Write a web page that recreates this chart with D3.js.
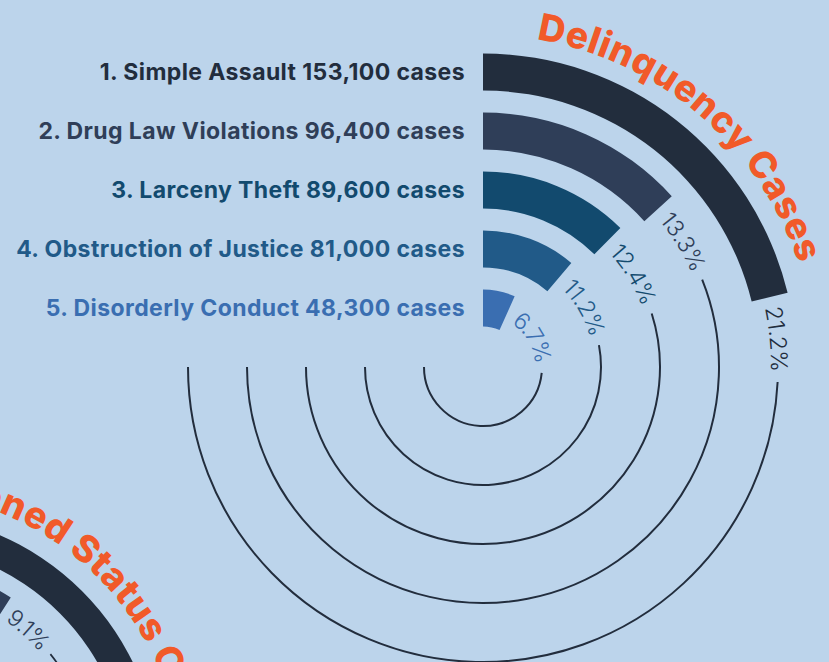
<!DOCTYPE html>
<html>
<head>
<meta charset="utf-8">
<script src="https://cdn.jsdelivr.net/npm/d3@7"></script>
<style>
  body { margin: 0; background: #bcd4eb; }
  text { font-family: Inter, "Noto Sans", sans-serif; }
</style>
</head>
<body>
<script>
// top five delinquency offenses
var categories = ["Simple Assault", "Drug Law Violations", "Larceny Theft", "Obstruction of Justice", "Disorderly Conduct"];
var cases = [153100, 96400, 89600, 81000, 48300];
var shares = [21.2, 13.3, 12.4, 11.2, 6.7];

// second chart, only partly on the page (ring 1 runs off the edge)
var statusShares = [25.0, 9.1];

var titles = ["Delinquency Cases", "Petitioned Status Offense Cases"];
var ringColors = ["#222d3d", "#2f3e58", "#124a6e", "#215a88", "#3a6eb1"];
var orange = "#f15a29";

var W = 829, H = 662;
var band = 37;

var angle = d3.scaleLinear().domain([0, 100]).range([0, 2 * Math.PI]);
var radius = d3.scalePoint().domain(d3.range(1, 6)).range([295, 59]);
var fmt = d3.format(",");

var svg = d3.select("body").append("svg")
    .attr("width", W)
    .attr("height", H);

svg.append("rect").attr("width", W).attr("height", H).attr("fill", "#bcd4eb");

function drawChart(g, id, vals, labels, o) {
    var rows = vals.map(function(v, i) {
        return { rank: i + 1, v: v, color: ringColors[i], label: labels ? labels[i] : null };
    });

    var arc = d3.arc()
        .innerRadius(function(d) { return radius(d.rank) - band / 2; })
        .outerRadius(function(d) { return radius(d.rank) + band / 2; })
        .startAngle(0)
        .endAngle(function(d) { return angle(d.v); });

    g.selectAll("path.bar")
        .data(rows)
        .join("path")
        .attr("class", "bar")
        .attr("fill", function(d) { return d.color; })
        .attr("d", arc);

    var gap = 10;
    rows.forEach(function(d, i) {
        var r = radius(d.rank);
        var a0 = angle(d.v);
        var p = d3.path();
        p.arc(0, 0, r, a0 - Math.PI / 2, Math.PI, false);
        var pid = id + "-ring" + i;
        g.append("path").attr("id", pid).attr("d", p.toString()).attr("fill", "none");

        var tp = g.append("text")
            .attr("dy", "0.3em")
            .attr("fill", d.color)
            .style("font-size", o.pctSize + "px")
            .style("font-weight", 300)
            .append("textPath")
            .attr("href", "#" + pid)
            .attr("startOffset", gap)
            .text(d.v.toFixed(1) + "%");

        var len = tp.node().getComputedTextLength();
        var a1 = a0 + (gap + len + gap) / r;
        var line = d3.path();
        line.arc(0, 0, r, a1 - Math.PI / 2, Math.PI, false);
        g.append("path")
            .attr("d", line.toString())
            .attr("fill", "none")
            .attr("stroke", "#222d3d")
            .attr("stroke-width", 2);

        if (d.label) {
            g.append("text")
                .attr("x", -18)
                .attr("y", -r)
                .attr("text-anchor", "end")
                .attr("dominant-baseline", "central")
                .attr("fill", d.color)
                .style("font-size", "23px")
                .style("font-weight", 700)
                .style("letter-spacing", "0.4px")
                .text(d.label);
        }
    });

    var t0 = o.titleStart * Math.PI / 180;
    var tpath = d3.path();
    tpath.arc(0, 0, o.titleR, t0 - Math.PI / 2, t0 + Math.PI, false);
    g.append("path").attr("id", id + "-title").attr("d", tpath.toString()).attr("fill", "none");
    g.append("text")
        .attr("fill", orange)
        .style("font-size", o.titleSize + "px")
        .style("font-weight", 800)
        .style("letter-spacing", "0.6px")
        .append("textPath")
        .attr("href", "#" + id + "-title")
        .text(o.title);
}

var labels = categories.map(function(c, i) {
    return (i + 1) + ". " + c + " " + fmt(cases[i]) + " cases";
});

var g1 = svg.append("g").attr("transform", "translate(483,367)");
drawChart(g1, "del", shares, labels,
    { title: titles[0], titleStart: 9.3, titleR: 332, titleSize: 37, pctSize: 23 });

var g2 = svg.append("g").attr("transform", "translate(-106,779) scale(0.848)");
drawChart(g2, "sta", statusShares, null,
    { title: titles[1], titleStart: -3.2, titleR: 338, titleSize: 44, pctSize: 27 });
</script>
</body>
</html>
